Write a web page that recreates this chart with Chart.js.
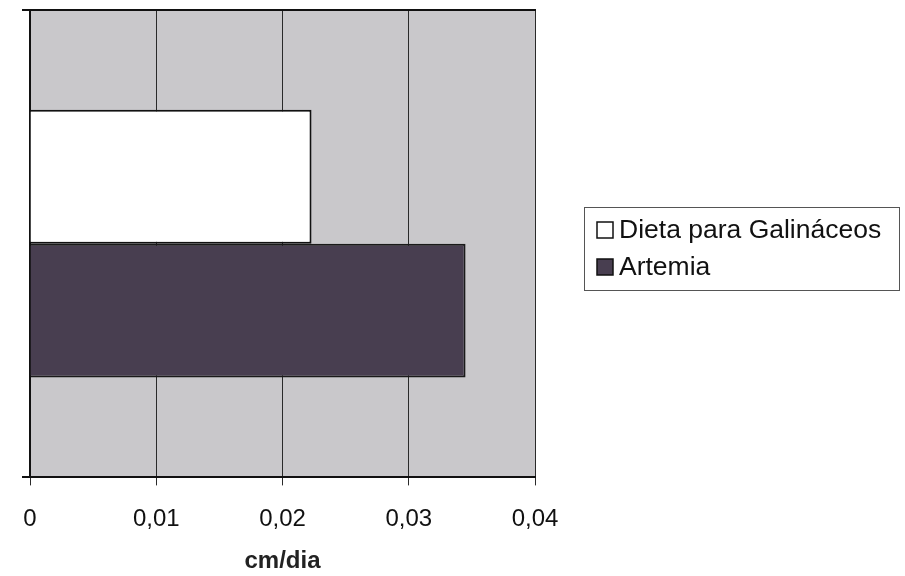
<!DOCTYPE html>
<html lang="pt">
<head>
<meta charset="UTF-8">
<title>cm/dia</title>
<style>
  html, body { margin: 0; padding: 0; background: #fff; }
  #wrap { width: 905px; height: 576px; }
</style>
</head>
<body>
<div id="wrap"><canvas id="myChart" width="905" height="576"></canvas></div>
<script src="https://cdn.jsdelivr.net/npm/chart.js"></script>
<script>
  // dados
  const categories = [''];
  const seriesNames = ['Dieta para Galináceos', 'Artemia'];
  const dietaValues = [0.0223];
  const artemiaValues = [0.0345];
  const xTicks = [0, 0.01, 0.02, 0.03, 0.04];

  const colors = ['#ffffff', '#483e50'];

  // fundo cinza da área do gráfico + linha de cima
  const plotBg = {
    id: 'plotBg',
    beforeDraw(chart) {
      const a = chart.chartArea;
      const c = chart.ctx;
      c.save();
      c.fillStyle = '#c9c8cb';
      c.fillRect(a.left, a.top, a.right - a.left, a.bottom - a.top);
      c.restore();
    },
    afterDraw(chart) {
      const a = chart.chartArea;
      const c = chart.ctx;
      c.save();
      c.strokeStyle = '#111';
      c.lineWidth = 2;
      c.beginPath();
      c.moveTo(a.left - 8, a.top);
      c.lineTo(a.right + 1, a.top);
      c.stroke();
      c.restore();
    }
  };

  // legenda com moldura à direita
  const boxLegend = {
    id: 'boxLegend',
    afterDraw(chart) {
      const c = chart.ctx;
      c.save();
      c.strokeStyle = '#555';
      c.lineWidth = 1;
      c.strokeRect(584.5, 207.5, 315, 83);
      c.font = '26.5px "Liberation Sans", Arial, sans-serif';
      c.textBaseline = 'middle';
      chart.data.datasets.forEach((ds, i) => {
        const y = 230 + i * 37;
        c.fillStyle = ds.backgroundColor;
        c.fillRect(597, y - 8, 16, 16);
        c.strokeStyle = '#111';
        c.lineWidth = 1.5;
        c.strokeRect(597, y - 8, 16, 16);
        c.fillStyle = '#111';
        c.fillText(ds.label, 619, y + 1);
      });
      c.restore();
    }
  };

  const ctx = document.getElementById('myChart').getContext('2d');
  const myChart = new Chart(ctx, {
    type: 'bar',
    data: {
      labels: categories,
      datasets: [
        { label: seriesNames[0], data: dietaValues, backgroundColor: colors[0], borderColor: '#111', borderWidth: 2 },
        { label: seriesNames[1], data: artemiaValues, backgroundColor: colors[1], borderColor: '#1a1a1a', borderWidth: 2 }
      ]
    },
    options: {
      indexAxis: 'y',
      responsive: false,
      animation: false,
      layout: { padding: { left: 22, right: 370, top: 10, bottom: 0 } },
      datasets: { bar: { categoryPercentage: 0.573, barPercentage: 1 } },
      plugins: {
        legend: { display: false },
        tooltip: { enabled: false }
      },
      scales: {
        x: {
          type: 'linear',
          min: xTicks[0],
          max: xTicks[xTicks.length - 1],
          afterBuildTicks(axis) { axis.ticks = xTicks.map(v => ({ value: v })); },
          grid: { color: '#2a2a2a', lineWidth: 1, tickLength: 8 },
          border: { color: '#111', width: 2 },
          ticks: {
            padding: 20,
            color: '#111',
            font: { family: '"Liberation Sans", Arial, sans-serif', size: 24 },
            callback: v => v === 0 ? '0' : v.toFixed(2).replace('.', ',')
          },
          title: {
            display: true,
            text: 'cm/dia',
            color: '#222',
            padding: { top: -7, bottom: 0 },
            font: { family: '"Liberation Sans", Arial, sans-serif', size: 24, weight: 'bold' }
          }
        },
        y: {
          grid: { color: '#111', lineWidth: 2, tickLength: 8 },
          border: { color: '#111', width: 2 },
          ticks: { display: false }
        }
      }
    },
    plugins: [plotBg, boxLegend]
  });
</script>
</body>
</html>
